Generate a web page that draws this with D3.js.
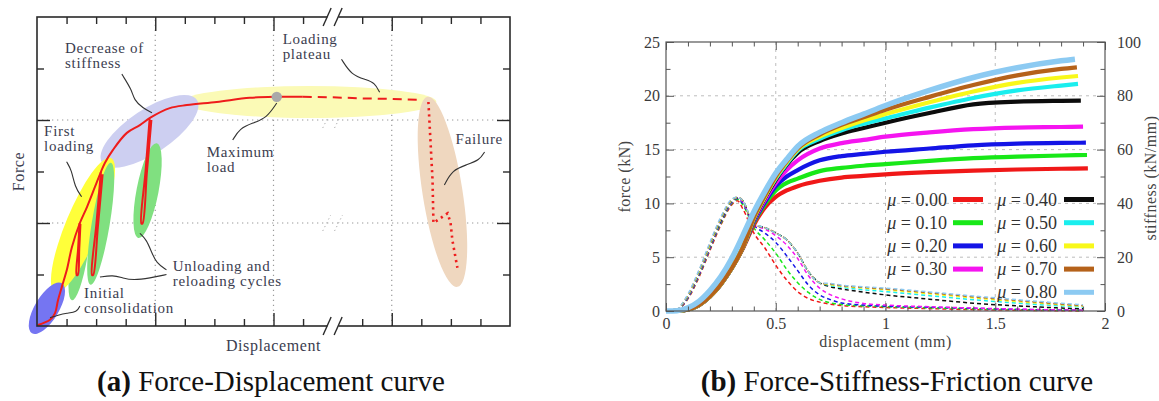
<!DOCTYPE html>
<html>
<head>
<meta charset="utf-8">
<script src="https://cdn.jsdelivr.net/npm/d3@7"></script>
<style>
  body { margin: 0; background: #fff; }
  svg { display: block; font-family: "Liberation Serif", "Times New Roman", serif; }
</style>
</head>
<body>
<script>
// ---------- panel (a) : schematic curve, x in tick units (0-16), y in tick units (0-6)
const loadingCurve = [[0.03,0.02],[0.44,0.12],[0.61,0.25],[0.71,0.5],[0.84,0.76],[1.01,1.09],[1.18,1.53],[1.45,2.0],[1.69,2.31],[1.96,2.7],[2.16,2.99],[2.3,3.17],[2.57,3.42],[3.04,3.75],[3.48,3.9],[3.82,4.04],[4.49,4.23],[5.07,4.29],[6.08,4.35],[7.2,4.43],[8.11,4.45],[8.99,4.45]];
const plateauCurve = [[8.99,4.45],[10,4.44],[11,4.42],[12,4.41],[13.04,4.39]];
const failureCurve = [[13.24,4.35],[13.38,2.83],[13.41,2.0],[13.89,2.19],[13.99,2.0],[14.05,1.67],[14.22,1.13]];
const cycleLoops = [
  [[1.44,2.0],[1.39,1.5],[1.34,0.99],[1.38,0.99],[1.43,1.5],[1.47,1.98]],
  [[2.16,2.99],[2.01,1.99],[1.86,0.99],[1.9,0.99],[2.06,1.93],[2.22,2.95]],
  [[3.81,4.03],[3.67,3.0],[3.53,1.99],[3.57,1.99],[3.72,3.0],[3.87,4.0]]
];
const maxLoad = [8.11, 4.45];

const highlightEnds = [
  [[4.93,4.35],[13.51,4.35]],
  [[2.2,3.17],[5.41,4.39]],
  [[13.21,4.45],[14.22,0.76]],
  [[1.18,0.5],[1.68,2.19]],
  [[0.61,0.66],[2.5,3.26]],
  [[1.81,0.8],[2.5,3.17]],
  [[3.43,1.71],[4.05,3.55]],
  [[-0.17,-0.14],[0.84,0.83]]
];
const highlightColors = ["#fbfab6", "#cdcff1", "#efd7bf", "#80e080", "#ffff3a", "#80e080", "#80e080", "#7575f2"];
const highlightHalfWidths = [16, 22, 20, 8, 17, 9, 11, 12];

const leaders = [
  [[2.87,4.89],[3.21,4.58],[3.28,4.39],[3.58,4.23],[3.89,4.14]],
  [[1.0,3.19],[1.17,3.03],[1.28,2.7],[1.51,2.51]],
  [[6.62,3.61],[6.86,3.84],[7.3,3.94],[7.77,4.04],[8.11,4.33]],
  [[10.3,5.18],[10.64,4.87],[11.15,4.78],[11.42,4.72],[11.59,4.54]],
  [[15.14,3.38],[14.97,3.22],[14.53,3.13],[14.05,3.03],[13.78,2.74]],
  [[4.38,1.0],[3.82,0.93],[3.25,0.89],[2.91,0.93],[2.57,0.99],[2.13,0.95]],
  [[4.38,1.09],[4.04,1.22],[3.87,1.44],[3.71,1.67],[3.48,1.8]],
  [[1.45,0.39],[1.35,0.27],[1.01,0.25],[0.71,0.21],[0.44,0.16]]
];

const notes = [["Decrease of", "stiffness"], ["Loading", "plateau"], ["First", "loading"], ["Maximum", "load"], ["Failure"], ["Unloading and", "reloading cycles"], ["Initial", "consolidation"]];
const noteAt = [[0.95,5.3], [8.31,5.48], [0.24,3.69], [5.74,3.28], [14.16,3.53], [4.59,1.07], [1.59,0.54]];

// ---------- panel (b) : force and stiffness vs displacement
const muLabels = ["0.00", "0.10", "0.20", "0.30", "0.40", "0.50", "0.60", "0.70", "0.80"];
const muColors = ["#f01818", "#18e818", "#1414e6", "#f514f0", "#0c0c0c", "#1aeeee", "#f8f81a", "#b5621a", "#8ccaf2"];

const dispForce = [0, 0.05, 0.1, 0.15, 0.2, 0.25, 0.3, 0.35, 0.4, 0.45, 0.5, 0.55, 0.6, 0.7, 0.8, 0.9, 1.0, 1.2, 1.4, 1.6, 1.8];
const forceEndDisp = [1.922, 1.918, 1.913, 1.9, 1.89, 1.877, 1.877, 1.872, 1.863];
const force = [
  [0,0.02,0.15,0.55,1.35,2.5,4.0,5.8,8.0,9.6,10.6,11.2,11.6,12.1,12.4,12.55,12.7,12.9,13.05,13.15,13.22,13.26],
  [0,0.02,0.15,0.55,1.35,2.5,4.0,5.9,8.2,9.9,11.2,11.9,12.3,13.0,13.3,13.5,13.65,13.95,14.2,14.35,14.45,14.5],
  [0,0.02,0.15,0.55,1.35,2.5,4.0,5.9,8.3,10.1,11.6,12.5,13.1,14.0,14.4,14.6,14.8,15.1,15.4,15.55,15.62,15.64],
  [0,0.02,0.15,0.55,1.35,2.5,4.0,5.9,8.4,10.3,11.9,13.1,14.0,15.1,15.6,15.9,16.2,16.6,16.9,17.05,17.1,17.13],
  [0,0.02,0.15,0.55,1.35,2.5,4.0,5.9,8.5,10.5,12.2,13.6,14.7,15.8,16.5,17.0,17.5,18.4,19.2,19.45,19.53,19.55],
  [0,0.02,0.15,0.55,1.35,2.5,4.0,5.9,8.6,10.6,12.3,13.7,14.9,16.0,16.8,17.4,17.9,18.9,19.8,20.5,20.95,21.1],
  [0,0.02,0.15,0.55,1.35,2.5,4.0,5.9,8.6,10.6,12.4,13.8,15.0,16.2,17.0,17.7,18.3,19.4,20.4,21.2,21.7,21.84],
  [0,0.02,0.15,0.55,1.35,2.5,4.0,5.9,8.7,10.7,12.5,13.9,15.1,16.4,17.3,18.0,18.7,19.9,21.0,21.9,22.5,22.65],
  [0,0.03,0.3,0.9,1.9,3.2,4.9,7.0,9.2,11.1,12.8,14.1,15.3,16.6,17.5,18.3,19.1,20.5,21.7,22.6,23.25,23.4]
];

const dispStiff = [0.05, 0.1, 0.15, 0.2, 0.25, 0.3, 0.325, 0.35, 0.4, 0.45, 0.5, 0.55, 0.6, 0.65, 0.7, 0.75, 0.8, 0.9, 1.0, 1.2, 1.4, 1.6, 1.8, 1.9];
const stiffness = [
  [0,4.5,12.5,22.5,32,39.5,41,38,29,23.5,17,11.5,7.2,4.6,3.3,2.5,2.0,1.6,1.3,0.9,0.5,0.3,0.1,0],
  [0,4.8,13,23,32.5,40,41.5,39.5,31,26.5,21.5,15.5,10.5,6.8,4.3,3.0,2.4,1.9,1.6,1.2,0.8,0.5,0.3,0.2],
  [0,5.0,13.3,23.3,33,40.3,41.8,40,32,29,25.5,20.5,15,9.5,6.0,4.2,3.0,2.2,1.8,1.4,1.0,0.6,0.35,0.2],
  [0,5.2,13.6,23.6,33.3,40.5,42,40.5,32,30.5,28,24.5,19.5,13,8.5,6.0,4.5,2.8,2.2,1.6,1.1,0.7,0.4,0.3],
  [0,5.4,13.9,24,33.6,40.8,42,41,32,31,29,26.5,21.5,14.5,10.5,9.0,8.2,7.0,6.0,4.4,2.9,1.9,1.1,0.8],
  [0,5.6,14.2,24.3,34,41,42.2,41,32,31,29,26.5,21.5,14.5,10.5,9.5,8.8,7.9,7.2,5.7,4.2,2.9,1.9,1.5],
  [0,5.8,14.5,24.6,34.3,41.2,42.2,41,32,31,29,26.5,21.5,14.5,10.5,9.8,9.2,8.5,7.9,6.4,4.9,3.5,2.3,1.8],
  [0,6.0,14.8,25,34.6,41.4,42.3,41,32,31,29,26.5,21.5,14.5,10.5,10.0,9.4,8.8,8.2,6.8,5.3,3.9,2.6,2.0],
  [0,6.3,15.2,25.5,35,41.6,42.3,41,32.5,31,29,26.5,21.5,14.5,10.5,10.2,9.6,9.0,8.5,7.1,5.6,4.2,2.9,2.3]
];

const xTicksB = [0, 0.5, 1, 1.5, 2];
const forceTicks = [0, 5, 10, 15, 20, 25];
const stiffTicks = [0, 20, 40, 60, 80, 100];

const serif = "Liberation Serif, Times New Roman, serif";
const ink = "#3b3d4f";
const svg = d3.select("body").append("svg").attr("width", 1159).attr("height", 401);

const createPanelA = () => {
  const xA = d3.scaleLinear().domain([0, 16]).range([37, 510]);
  const yA = d3.scaleLinear().domain([0, 6]).range([326, 17]);
  const g = svg.append("g");
  const line = d3.line().x(d => xA(d[0])).y(d => yA(d[1]));

  // dotted grid
  [4, 8, 12].forEach(v => g.append("line")
    .attr("x1", xA(v)).attr("x2", xA(v)).attr("y1", yA(0)).attr("y2", yA(6))
    .attr("stroke", "#9a9a9a").attr("stroke-width", 1.2).attr("stroke-dasharray", "1.3,3.7"));
  [2, 4].forEach(v => {
    g.append("line")
      .attr("x1", xA(0)).attr("x2", xA(16)).attr("y1", yA(v)).attr("y2", yA(v))
      .attr("stroke", "#9a9a9a").attr("stroke-width", 1.2).attr("stroke-dasharray", "1.3,3.7");
    [-0.2, 0.2].forEach(o => g.append("line")
      .attr("x1", xA(10 + o) - 4).attr("x2", xA(10 + o) + 4)
      .attr("y1", yA(v) + 8).attr("y2", yA(v) - 8)
      .attr("stroke", "#b0b0b0").attr("stroke-width", 1).attr("stroke-dasharray", "1.3,3"));
  });

  // highlight ellipses
  highlightEnds.forEach((e, i) => {
    const x1 = xA(e[0][0]), y1 = yA(e[0][1]), x2 = xA(e[1][0]), y2 = yA(e[1][1]);
    const cx = (x1 + x2) / 2, cy = (y1 + y2) / 2;
    const ang = Math.atan2(y2 - y1, x2 - x1) * 180 / Math.PI;
    g.append("ellipse")
      .attr("cx", cx).attr("cy", cy)
      .attr("rx", Math.hypot(x2 - x1, y2 - y1) / 2).attr("ry", highlightHalfWidths[i])
      .attr("transform", `rotate(${ang},${cx},${cy})`)
      .attr("fill", highlightColors[i]);
  });

  // red curve
  g.append("path").datum(loadingCurve)
    .attr("d", line.curve(d3.curveCatmullRom))
    .attr("fill", "none").attr("stroke", "#ee1c1c").attr("stroke-width", 2);
  cycleLoops.forEach(c => g.append("path").datum(c)
    .attr("d", line.curve(d3.curveCatmullRom))
    .attr("fill", "none").attr("stroke", "#ee1c1c").attr("stroke-width", 2));
  g.append("path").datum(plateauCurve)
    .attr("d", line.curve(d3.curveLinear))
    .attr("fill", "none").attr("stroke", "#ee1c1c").attr("stroke-width", 2)
    .attr("stroke-dasharray", "9,6");
  g.append("path").datum(failureCurve)
    .attr("d", line.curve(d3.curveLinear))
    .attr("fill", "none").attr("stroke", "#ee1c1c").attr("stroke-width", 2.6)
    .attr("stroke-dasharray", "2.2,4");
  g.append("circle").attr("cx", xA(maxLoad[0])).attr("cy", yA(maxLoad[1])).attr("r", 5.2).attr("fill", "#a9a9a9");

  // leader lines
  leaders.forEach(l => g.append("path").datum(l)
    .attr("d", line.curve(d3.curveBasis))
    .attr("fill", "none").attr("stroke", "#333").attr("stroke-width", 1.1));

  // frame + ticks
  g.append("rect").attr("x", xA(0)).attr("y", yA(6)).attr("width", xA(16) - xA(0)).attr("height", yA(0) - yA(6))
    .attr("fill", "none").attr("stroke", "#2a2a2a").attr("stroke-width", 1.6);

  const minorX = d3.range(1, 16).filter(v => ![4, 8, 10, 12].includes(v));
  const tickAxis = (axis, vals, size, tr) => g.append("g")
    .attr("transform", tr)
    .call(axis.tickValues(vals).tickSize(size).tickFormat(""))
    .call(s => s.select(".domain").remove())
    .call(s => s.selectAll("line").attr("stroke", "#2a2a2a").attr("stroke-width", 1.4));
  tickAxis(d3.axisTop(xA), minorX, -7, `translate(0,${yA(6)})`);
  tickAxis(d3.axisTop(xA), [4, 8, 12], -14, `translate(0,${yA(6)})`);
  tickAxis(d3.axisBottom(xA), minorX, -7, `translate(0,${yA(0)})`);
  tickAxis(d3.axisBottom(xA), [4, 8, 12], -13, `translate(0,${yA(0)})`);
  tickAxis(d3.axisLeft(yA), [1, 3, 5], -7, `translate(${xA(0)},0)`);
  tickAxis(d3.axisLeft(yA), [2, 4], -13, `translate(${xA(0)},0)`);
  tickAxis(d3.axisRight(yA), [1, 3, 5], -7, `translate(${xA(16)},0)`);
  tickAxis(d3.axisRight(yA), [2, 4], -13, `translate(${xA(16)},0)`);

  // axis break marks
  [yA(6), yA(0)].forEach(y => {
    const x = xA(10);
    g.append("polygon")
      .attr("points", `${x - 9},${y + 9} ${x - 1},${y - 9} ${x + 10},${y - 9} ${x + 2},${y + 9}`)
      .attr("fill", "#fff");
    [-5.5, 5.5].forEach(o => g.append("line")
      .attr("x1", x + o - 4).attr("y1", y + 9).attr("x2", x + o + 4).attr("y2", y - 9)
      .attr("stroke", "#2a2a2a").attr("stroke-width", 1.4));
  });

  // annotation text, one text per line
  notes.forEach((lines, i) => {
    lines.forEach((s, j) => g.append("text")
      .attr("x", xA(noteAt[i][0])).attr("y", yA(noteAt[i][1]) + j * 15)
      .attr("font-family", serif).attr("font-size", 15)
      .attr("letter-spacing", 0.7).attr("fill", ink).text(s));
  });

  g.append("text").attr("x", (xA(0) + xA(16)) / 2).attr("y", 351)
    .attr("text-anchor", "middle").attr("font-family", serif).attr("font-size", 16)
    .attr("letter-spacing", 0.6).attr("fill", ink).text("Displacement");
  g.append("text").attr("transform", `translate(24,${(yA(0) + yA(6)) / 2}) rotate(-90)`)
    .attr("text-anchor", "middle").attr("font-family", serif).attr("font-size", 16)
    .attr("letter-spacing", 0.6).attr("fill", ink).text("Force");

  const cap = g.append("text").attr("x", 271).attr("y", 391).attr("text-anchor", "middle")
    .attr("font-family", serif).attr("font-size", 29).attr("fill", "#111");
  cap.append("tspan").attr("font-weight", "bold").text("(a)");
  cap.append("tspan").text(" Force-Displacement curve");
};

const createPanelB = () => {
  const xB = d3.scaleLinear().domain([0, 2]).range([666, 1105]);
  const yF = d3.scaleLinear().domain([0, 25]).range([311, 42]);
  const yS = d3.scaleLinear().domain([0, 100]).range([311, 42]);
  const g = svg.append("g");

  // dashed grid
  [0.5, 1, 1.5].forEach(v => g.append("line")
    .attr("x1", xB(v)).attr("x2", xB(v)).attr("y1", yF(0)).attr("y2", yF(25))
    .attr("stroke", "#b5b5b5").attr("stroke-width", 0.9).attr("stroke-dasharray", "3,4"));
  [5, 10, 15, 20].forEach(v => g.append("line")
    .attr("x1", xB(0)).attr("x2", xB(2)).attr("y1", yF(v)).attr("y2", yF(v))
    .attr("stroke", "#b5b5b5").attr("stroke-width", 0.9).attr("stroke-dasharray", "3,4"));

  // stiffness (dashed, right axis)
  const sLine = d3.line().x(d => xB(d[0])).y(d => yS(d[1])).curve(d3.curveMonotoneX);
  stiffness.forEach((s, i) => g.append("path")
    .datum(dispStiff.map((d, j) => [d, s[j]]))
    .attr("d", sLine)
    .attr("fill", "none").attr("stroke", muColors[i]).attr("stroke-width", 1.5)
    .attr("stroke-dasharray", "4,3"));

  // force (solid, left axis)
  const fLine = d3.line().x(d => xB(d[0])).y(d => yF(d[1])).curve(d3.curveMonotoneX);
  force.forEach((f, i) => {
    const pts = dispForce.map((d, j) => [d, f[j]]);
    pts.push([forceEndDisp[i], f[f.length - 1]]);
    g.append("path").datum(pts)
      .attr("d", fLine)
      .attr("fill", "none").attr("stroke", muColors[i])
      .attr("stroke-width", i === 8 ? 5.5 : 4.2);
  });

  // frame and axes
  g.append("rect").attr("x", xB(0)).attr("y", yF(25)).attr("width", xB(2) - xB(0)).attr("height", yF(0) - yF(25))
    .attr("fill", "none").attr("stroke", "#555").attr("stroke-width", 1.2);

  const styleAxis = s => {
    s.select(".domain").remove();
    s.selectAll("line").attr("stroke", "#555").attr("stroke-width", 1);
    s.selectAll("text").attr("font-family", serif).attr("font-size", 16).attr("fill", "#3a3a3a");
  };
  const minorXB = d3.range(1, 20).map(v => v / 10).filter(v => Math.round(v * 10) % 5 !== 0);
  const minorYF = [2.5, 7.5, 12.5, 17.5, 22.5];

  g.append("g").attr("transform", `translate(0,${yF(0)})`)
    .call(d3.axisBottom(xB).tickValues(xTicksB).tickSize(-8).tickPadding(7).tickFormat(d3.format("")))
    .call(styleAxis);
  g.append("g").attr("transform", `translate(0,${yF(0)})`)
    .call(d3.axisBottom(xB).tickValues(minorXB).tickSize(-4.5).tickFormat("")).call(styleAxis);
  g.append("g").attr("transform", `translate(0,${yF(25)})`)
    .call(d3.axisTop(xB).tickValues(xTicksB).tickSize(-8).tickFormat("")).call(styleAxis);
  g.append("g").attr("transform", `translate(0,${yF(25)})`)
    .call(d3.axisTop(xB).tickValues(minorXB).tickSize(-4.5).tickFormat("")).call(styleAxis);
  g.append("g").attr("transform", `translate(${xB(0)},0)`)
    .call(d3.axisLeft(yF).tickValues(forceTicks).tickSize(-8).tickPadding(6)).call(styleAxis);
  g.append("g").attr("transform", `translate(${xB(0)},0)`)
    .call(d3.axisLeft(yF).tickValues(minorYF).tickSize(-4.5).tickFormat("")).call(styleAxis);
  g.append("g").attr("transform", `translate(${xB(2)},0)`)
    .call(d3.axisRight(yS).tickValues(stiffTicks).tickSize(-8).tickPadding(12)).call(styleAxis);
  g.append("g").attr("transform", `translate(${xB(2)},0)`)
    .call(d3.axisRight(yS).tickValues([10, 30, 50, 70, 90]).tickSize(-4.5).tickFormat("")).call(styleAxis);

  g.append("text").attr("x", (xB(0) + xB(2)) / 2).attr("y", 347).attr("text-anchor", "middle")
    .attr("font-family", serif).attr("font-size", 16).attr("letter-spacing", 0.5)
    .attr("fill", "#444").text("displacement (mm)");
  g.append("text").attr("transform", `translate(630,${(yF(0) + yF(25)) / 2}) rotate(-90)`)
    .attr("text-anchor", "middle").attr("font-family", serif).attr("font-size", 16)
    .attr("letter-spacing", 0.5).attr("fill", "#444").text("force (kN)");
  g.append("text").attr("transform", `translate(1156,178) rotate(-90)`)
    .attr("text-anchor", "middle").attr("font-family", serif).attr("font-size", 16)
    .attr("letter-spacing", 0.5).attr("fill", "#444").text("stiffness (kN/mm)");

  // legend, two columns
  const rowY = i => 199.5 + 23.2 * i;
  muLabels.forEach((m, i) => {
    const col = i < 4 ? 0 : 1, row = i < 4 ? i : i - 4;
    const textEnd = col ? 1057 : 947, sw = col ? 1064 : 953;
    const t = g.append("text").attr("x", textEnd).attr("y", rowY(row) + 6)
      .attr("text-anchor", "end").attr("font-family", serif).attr("font-size", 18).attr("fill", "#333");
    t.append("tspan").attr("font-style", "italic").text("μ");
    t.append("tspan").text(` = ${m}`);
    g.append("line").attr("x1", sw).attr("x2", sw + 30).attr("y1", rowY(row)).attr("y2", rowY(row))
      .attr("stroke", muColors[i]).attr("stroke-width", 5);
  });

  const cap = g.append("text").attr("x", 897).attr("y", 391).attr("text-anchor", "middle")
    .attr("font-family", serif).attr("font-size", 29).attr("fill", "#111");
  cap.append("tspan").attr("font-weight", "bold").text("(b)");
  cap.append("tspan").text(" Force-Stiffness-Friction curve");
};

createPanelA();
createPanelB();
</script>
</body>
</html>
